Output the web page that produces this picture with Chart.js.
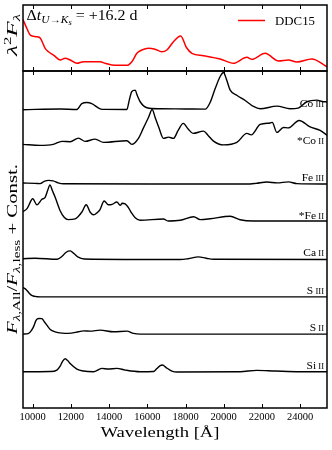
<!DOCTYPE html>
<html>
<head>
<meta charset="utf-8">
<script src="https://cdn.jsdelivr.net/npm/chart.js@4.4.1/dist/chart.umd.min.js"></script>
<style>
  html, body { margin: 0; padding: 0; background: #fff; }
  #wrap { position: relative; width: 332px; height: 450px; }
  canvas { position: absolute; left: 0; top: 0; }
</style>
</head>
<body>
<div id="wrap">
  <canvas id="ratioChart" width="332" height="450"></canvas>
  <canvas id="modelChart" width="332" height="80"></canvas>
</div>
<script>
// x ticks (Angstrom)
const xTicks = [10000, 12000, 14000, 16000, 18000, 20000, 22000, 24000];

// top panel: DDC15 model, lambda^2 F_lambda (arbitrary units)
const modelWave = [9490, 9700, 9870, 10200, 10400, 10650, 10825, 11090, 11440, 11700, 11960, 12310, 12660, 13530, 13790, 14145, 14930, 15190, 15455, 15715, 16060, 16410, 16760, 17025, 17370, 17750, 18040, 18335, 18940, 19815, 20510, 21215, 21475, 22170, 22870, 23390, 23830, 24615, 25420];
const modelFlux = [0.78, 0.64, 0.545, 0.52, 0.495, 0.344, 0.292, 0.242, 0.167, 0.192, 0.167, 0.117, 0.141, 0.141, 0.117, 0.091, 0.086, 0.141, 0.268, 0.318, 0.344, 0.329, 0.292, 0.318, 0.444, 0.53, 0.36, 0.268, 0.232, 0.182, 0.117, 0.208, 0.177, 0.268, 0.152, 0.167, 0.136, 0.182, 0.065];

// bottom panel: F_all / F_less for each ion (offset added later)
const ionElements = ['Si', 'S', 'S', 'Ca', '*Fe', 'Fe', '*Co', 'Co'];
const ionStages = ['II', 'II', 'III', 'II', 'II', 'III', 'II', 'III'];

const siIIWave = [9490, 10915, 11265, 11435, 11570, 11700, 11830, 11960, 12310, 12655, 13180, 13620, 13950, 14405, 14840, 15625, 16325, 16500, 16675, 16795, 16985, 17285, 17550, 20860, 21735, 22695, 24000, 25420];
const siIIRatio = [0.968, 0.973, 1.013, 1.12, 1.253, 1.315, 1.267, 1.187, 1.04, 0.987, 0.968, 1.059, 1.04, 1.059, 1.013, 0.968, 0.973, 1.053, 1.133, 1.147, 1.08, 0.987, 0.96, 0.968, 1.005, 0.987, 0.968, 0.968];

const sIIWave = [9490, 9760, 9865, 10040, 10180, 10310, 10480, 10600, 10740, 10915, 11175, 11540, 11855, 12395, 12655, 13010, 13530, 14230, 14930, 15275, 15625, 25420];
const sIIRatio = [0.973, 0.987, 1.027, 1.168, 1.347, 1.392, 1.387, 1.307, 1.213, 1.099, 1.035, 1.0, 0.992, 1.035, 1.061, 1.053, 1.08, 1.035, 1.053, 0.992, 0.973, 0.973];

const sIIIWave = [9490, 9660, 9815, 9970, 10215, 10650, 25420];
const sIIIRatio = [1.219, 1.16, 1.067, 1.0, 0.973, 0.968, 0.968];

const caIIWave = [9490, 10130, 11280, 11540, 11750, 11960, 12170, 12380, 12695, 17720, 18140, 18680, 19080, 19465, 25420];
const caIIRatio = [0.987, 1.0, 0.973, 1.053, 1.16, 1.195, 1.12, 1.027, 0.981, 0.965, 0.987, 1.035, 1.0, 0.973, 0.965];

const feIIWave = [9490, 9710, 10000, 10215, 10480, 10650, 10785, 10900, 11020, 11175, 11435, 11645, 11855, 12225, 12575, 12800, 13010, 13180, 13425, 13530, 13740, 13965, 14160, 14405, 14580, 14685, 14840, 15000, 15155, 15365, 15625, 16845, 17090, 17720, 18430, 18770, 19290, 20340, 20860, 21560, 25420];
const feIIRatio = [1.24, 1.333, 1.587, 1.427, 1.573, 1.627, 1.813, 1.96, 1.813, 1.627, 1.267, 1.093, 1.032, 1.053, 1.235, 1.427, 1.227, 1.16, 1.24, 1.307, 1.528, 1.427, 1.44, 1.501, 1.413, 1.467, 1.453, 1.36, 1.227, 1.08, 1.013, 1.048, 0.995, 1.013, 1.107, 1.032, 1.053, 1.12, 1.027, 0.995, 0.995];

const feIIIWave = [9490, 10130, 10390, 10600, 10825, 11070, 11330, 11610, 16150, 21210, 21700, 22260, 22800, 23390, 23830, 25420];
const feIIIRatio = [1.008, 1.0, 0.992, 1.053, 1.08, 1.067, 1.013, 0.987, 0.981, 0.981, 1.0, 1.035, 1.013, 1.04, 0.992, 0.981];

const coIIWave = [9490, 10390, 11070, 11525, 11960, 12395, 12745, 13270, 13705, 14930, 15190, 15535, 15785, 16060, 16255, 16410, 16585, 16845, 17110, 17370, 17615, 17880, 18140, 18400, 18940, 19185, 19465, 19990, 20690, 21215, 21440, 21910, 22435, 22540, 22785, 23130, 23375, 23950, 24525, 25050, 25420];
const coIIRatio = [1.04, 1.013, 1.04, 1.12, 1.112, 1.208, 1.12, 1.181, 1.093, 1.139, 1.04, 1.2, 1.467, 1.76, 1.973, 1.76, 1.52, 1.2, 1.235, 1.2, 1.413, 1.6, 1.453, 1.333, 1.395, 1.28, 1.128, 1.027, 1.093, 1.333, 1.293, 1.573, 1.613, 1.627, 1.36, 1.493, 1.48, 1.68, 1.507, 1.413, 1.28];

const coIIIWave = [9490, 11440, 12310, 12570, 12835, 13090, 13530, 13800, 14930, 15050, 15190, 15365, 15470, 15625, 15980, 16670, 17980, 19030, 19290, 19555, 19815, 19990, 20130, 20340, 20705, 21125, 21560, 21910, 22785, 23480, 23900, 24355, 24880, 25155, 25420];
const coIIIRatio = [0.965, 0.987, 0.973, 1.13, 1.16, 1.13, 0.99, 0.975, 0.973, 1.21, 1.453, 1.488, 1.35, 1.179, 1.019, 0.992, 0.987, 0.981, 1.16, 1.533, 1.853, 1.96, 1.8, 1.488, 1.347, 1.213, 1.053, 0.992, 1.061, 0.992, 1.008, 1.179, 1.221, 1.187, 1.173];

const spectra = [
  [siIIWave, siIIRatio], [sIIWave, sIIRatio], [sIIIWave, sIIIRatio], [caIIWave, caIIRatio],
  [feIIWave, feIIRatio], [feIIIWave, feIIIRatio], [coIIWave, coIIRatio], [coIIIWave, coIIIRatio]
];

const serif = '"Liberation Serif", "Times New Roman", serif';

// rich text helpers (sub/superscripts, small caps)
function setFont(ctx, p) {
  ctx.font = (p.it ? 'italic ' : '') + p.s + 'px ' + serif;
}
function partsWidth(ctx, parts) {
  let w = 0;
  for (const p of parts) { setFont(ctx, p); w += ctx.measureText(p.t).width; }
  return w;
}
// draw parts on baseline y; if fit is given the text is stretched to that width
function drawParts(ctx, parts, x, y, align, fit) {
  const raw = partsWidth(ctx, parts);
  const k = fit ? fit / raw : 1;
  const w = raw * k;
  const x0 = align === 'center' ? x - w / 2 : align === 'right' ? x - w : x;
  ctx.save();
  ctx.translate(x0, y);
  ctx.scale(k, 1);
  ctx.fillStyle = '#000';
  ctx.textBaseline = 'alphabetic';
  ctx.textAlign = 'left';
  let px = 0;
  for (const p of parts) {
    setFont(ctx, p);
    ctx.fillText(p.t, px, p.dy || 0);
    px += ctx.measureText(p.t).width;
  }
  ctx.restore();
}
function drawRotated(ctx, parts, x, y, fit) {
  ctx.save();
  ctx.translate(x, y);
  ctx.rotate(-Math.PI / 2);
  drawParts(ctx, parts, 0, 0, 'center', fit);
  ctx.restore();
}

// frame + inward tick marks top and bottom
const frameTicks = {
  id: 'frameTicks',
  afterDraw(chart) {
    const { ctx, chartArea: a, scales: { x } } = chart;
    ctx.save();
    ctx.strokeStyle = '#000';
    ctx.lineWidth = 1;
    ctx.beginPath();
    xTicks.forEach(v => {
      const px = Math.round(x.getPixelForValue(v)) + 0.5;
      ctx.moveTo(px, a.top); ctx.lineTo(px, a.top + 4);
      ctx.moveTo(px, a.bottom); ctx.lineTo(px, a.bottom - 4);
    });
    ctx.stroke();
    ctx.lineWidth = 1.5;
    ctx.strokeRect(a.left, a.top, a.right - a.left, a.bottom - a.top);
    ctx.restore();
  }
};

const modelText = {
  id: 'modelText',
  afterDraw(chart) {
    const { ctx } = chart;
    drawParts(ctx, [
      { t: '\u0394', s: 14 }, { t: 't', s: 14, it: true },
      { t: 'U\u2192K', s: 10, it: true, dy: 3 }, { t: 's', s: 7.5, it: true, dy: 5 },
      { t: ' = +16.2 d', s: 14 }
    ], 26.5, 19.5, 'left', 111);
    // legend
    ctx.save();
    ctx.strokeStyle = '#ff0000';
    ctx.lineWidth = 1.5;
    ctx.beginPath(); ctx.moveTo(238, 20.5); ctx.lineTo(265, 20.5); ctx.stroke();
    ctx.restore();
    drawParts(ctx, [{ t: 'DDC15', s: 13.5 }], 275, 25, 'left', 40);
    // y label
    drawRotated(ctx, [
      { t: '\u03bb', s: 15, it: true }, { t: '2', s: 10, dy: -6 },
      { t: 'F', s: 15, it: true }, { t: '\u03bb', s: 10, it: true, dy: 3 }
    ], 17, 35, 42);
  }
};

const ratioText = {
  id: 'ratioText',
  beforeDatasetsDraw(chart) {
    const { ctx, chartArea: a, scales: { y } } = chart;
    ionElements.forEach((el, i) => {
      const by = y.getPixelForValue(i + 0.97) - 3;
      const parts = [{ t: el, s: 10 }, { t: ' ' + ionStages[i], s: 7.5 }];
      ctx.save();
      ctx.translate(a.right - 3, by);
      ctx.scale(1.15, 1);
      drawParts(ctx, parts, 0, 0, 'right');
      ctx.restore();
    });
  },
  afterDraw(chart) {
    const { ctx } = chart;
    drawParts(ctx, [{ t: 'Wavelength [\u00c5]', s: 15 }], 160, 437, 'center', 119);
    drawRotated(ctx, [
      { t: 'F', s: 15, it: true }, { t: '\u03bb', s: 11, it: true, dy: 3 }, { t: ',All', s: 11, dy: 3 },
      { t: '/', s: 15 },
      { t: 'F', s: 15, it: true }, { t: '\u03bb', s: 11, it: true, dy: 3 }, { t: ',less', s: 11, dy: 3 },
      { t: ' + Const.', s: 15 }
    ], 17, 249, 170);
  }
};

const baseOptions = {
  responsive: false,
  animation: false,
  events: [],
  plugins: { legend: { display: false }, tooltip: { enabled: false } },
  elements: { point: { radius: 0 }, line: { cubicInterpolationMode: 'monotone' } }
};

new Chart(document.getElementById('modelChart'), {
  type: 'line',
  data: {
    datasets: [{
      label: 'DDC15',
      data: modelWave.map((w, k) => ({ x: w, y: modelFlux[k] })),
      borderColor: '#ff0000',
      borderWidth: 1.5
    }]
  },
  options: {
    ...baseOptions,
    layout: { padding: { left: 23, right: 5, top: 5, bottom: 9 } },
    scales: {
      x: { type: 'linear', min: 9490, max: 25410, display: false },
      y: { min: 0, max: 1, display: false }
    }
  },
  plugins: [frameTicks, modelText]
});

new Chart(document.getElementById('ratioChart'), {
  type: 'line',
  data: {
    datasets: spectra.map(([w, r], i) => ({
      label: ionElements[i] + ' ' + ionStages[i],
      data: w.map((x, k) => ({ x, y: r[k] + i })),
      borderColor: '#000',
      borderWidth: 1.4
    }))
  },
  options: {
    ...baseOptions,
    layout: { padding: { left: 23, right: 5, top: 71, bottom: 0 } },
    scales: {
      x: {
        type: 'linear', min: 9490, max: 25410,
        afterBuildTicks: s => { s.ticks = xTicks.map(v => ({ value: v })); },
        afterFit: s => { s.height = 42; },
        grid: { display: false, drawTicks: false },
        border: { display: false },
        ticks: {
          color: '#000', padding: 3, maxRotation: 0,
          font: { family: serif, size: 10.5 },
          callback: v => String(v)
        }
      },
      y: { min: 0, max: 9, display: false }
    }
  },
  plugins: [frameTicks, ratioText]
});
</script>
</body>
</html>
